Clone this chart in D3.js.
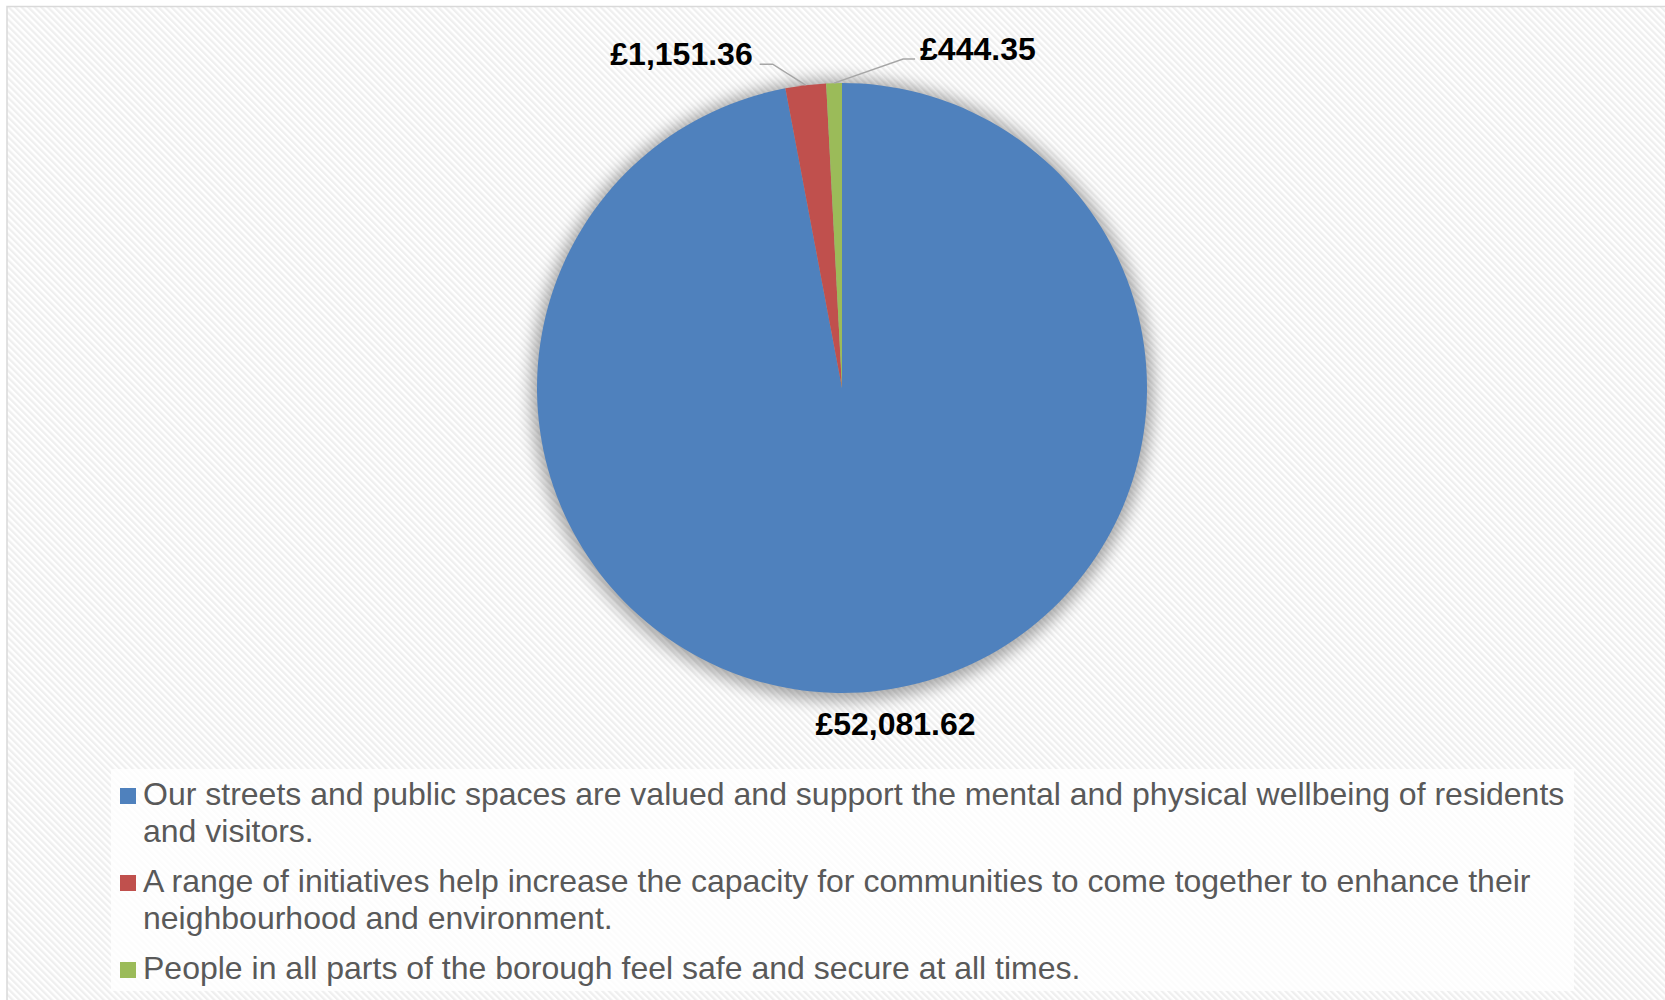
<!DOCTYPE html>
<html>
<head>
<meta charset="utf-8">
<script src="https://cdn.jsdelivr.net/npm/d3@7"></script>
<style>
  html, body { margin: 0; padding: 0; background: #ffffff; }
  svg { display: block; }
</style>
</head>
<body>
<svg id="chart" width="1665" height="1000"></svg>
<script>
// ---- data ----
const categories = [
  "Our streets and public spaces are valued and support the mental and physical wellbeing of residents and visitors.",
  "A range of initiatives help increase the capacity for communities to come together to enhance their neighbourhood and environment.",
  "People in all parts of the borough feel safe and secure at all times."
];
const values = [52081.62, 1151.36, 444.35];
const valueLabels = ["£52,081.62", "£1,151.36", "£444.35"];
const colors = ["#4F81BD", "#C0504D", "#9BBB59"];

// ---- layout ----
const W = 1665, H = 1000;
const cx = 842, cy = 388, R = 305;
const svg = d3.select("#chart");
const defs = svg.append("defs");

const pat = defs.append("pattern")
  .attr("id", "diag").attr("patternUnits", "userSpaceOnUse")
  .attr("width", 4.6).attr("height", 4.6)
  .attr("patternTransform", "rotate(-45)");
pat.append("rect").attr("width", 4.6).attr("height", 4.6).attr("fill", "#ffffff");
pat.append("rect").attr("width", 2.3).attr("height", 4.6).attr("fill", "#efefef");

const shadow = defs.append("filter").attr("id", "shadow")
  .attr("x", "-20%").attr("y", "-20%").attr("width", "140%").attr("height", "140%");
shadow.append("feGaussianBlur").attr("stdDeviation", 8);

// background + border
svg.append("rect").attr("x", 0).attr("y", 0).attr("width", W).attr("height", H).attr("fill", "#ffffff");
svg.append("rect").attr("x", 7).attr("y", 6.5).attr("width", W + 20).attr("height", H + 20)
  .attr("fill", "url(#diag)").attr("stroke", "#d9d9d9").attr("stroke-width", 1.5);

// pie
const pie = d3.pie().sort(null).value(d => d)(values);
const arc = d3.arc().innerRadius(0).outerRadius(R);
const g = svg.append("g").attr("transform", `translate(${cx},${cy})`);

g.append("circle").attr("r", R + 6).attr("cy", 2).attr("fill", "#000").attr("opacity", 0.33)
  .attr("filter", "url(#shadow)");

g.selectAll("path.slice").data(pie).join("path")
  .attr("class", "slice")
  .attr("d", arc)
  .attr("fill", (d, i) => colors[i]);

// labels
const labelFont = "'Liberation Sans', Arial, sans-serif";
function edgePoint(d) {
  const a = (d.startAngle + d.endAngle) / 2;
  return [Math.sin(a) * R, -Math.cos(a) * R];
}
const labelLayout = [
  { type: "none", dx: 25, dy: 43, anchor: "middle" },
  { type: "line", elbow: [-33, -21], end: [-46, -21], tdx: -53, tdy: -20, anchor: "end" },
  { type: "line", elbow: [69, -24], end: [81, -24], tdx: 86, tdy: -23, anchor: "start" }
];
const labelSize = 32;
pie.forEach((d, i) => {
  const p = edgePoint(d);
  const L = labelLayout[i];
  if (L.type === "line") {
    const pts = [p, [p[0] + L.elbow[0], p[1] + L.elbow[1]], [p[0] + L.end[0], p[1] + L.end[1]]];
    g.append("path").attr("d", d3.line()(pts)).attr("fill", "none")
      .attr("stroke", "#a6a6a6").attr("stroke-width", 1.5);
    g.append("text").attr("x", p[0] + L.tdx).attr("y", p[1] + L.tdy)
      .attr("text-anchor", L.anchor).attr("font-family", labelFont)
      .attr("font-weight", "bold").attr("font-size", labelSize).attr("fill", "#000")
      .text(valueLabels[i]);
  } else {
    g.append("text").attr("x", p[0] + L.dx).attr("y", p[1] + L.dy)
      .attr("text-anchor", L.anchor).attr("font-family", labelFont)
      .attr("font-weight", "bold").attr("font-size", labelSize).attr("fill", "#000")
      .text(valueLabels[i]);
  }
});

// legend
const legX = 111, legY = 769, legW = 1463, legH = 222;
svg.append("rect").attr("x", legX).attr("y", legY).attr("width", legW).attr("height", legH)
  .attr("fill", "#ffffff").attr("opacity", 0.78);

const legFontSize = 32;
const textX = 143, maxW = 1428;
const measure = svg.append("text").attr("font-family", labelFont).attr("font-size", legFontSize);
function wrap(str) {
  const words = str.split(" ");
  const lines = [];
  let cur = "";
  words.forEach(w => {
    const test = cur ? cur + " " + w : w;
    measure.text(test);
    if (measure.node().getComputedTextLength() > maxW && cur) { lines.push(cur); cur = w; }
    else cur = test;
  });
  if (cur) lines.push(cur);
  return lines;
}
let baseline = 805;
const lineH = 36.5, itemGap = 50.5;
categories.forEach((c, i) => {
  const lines = wrap(c);
  svg.append("rect").attr("x", 120).attr("y", baseline - 17).attr("width", 16).attr("height", 16)
    .attr("fill", colors[i]);
  const t = svg.append("text").attr("font-family", labelFont).attr("font-size", legFontSize)
    .attr("fill", "#595959");
  lines.forEach((ln, j) => {
    t.append("tspan").attr("x", textX).attr("y", baseline + j * lineH).text(ln);
  });
  baseline += (lines.length - 1) * lineH + itemGap;
});
measure.remove();
</script>
</body>
</html>
